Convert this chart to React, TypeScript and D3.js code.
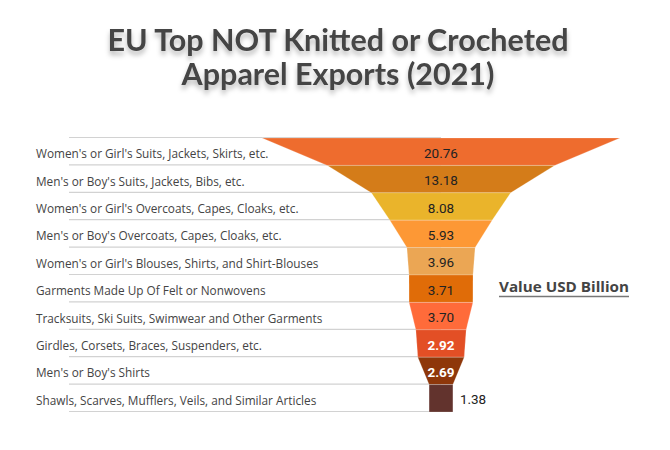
import React from "react";
import * as d3 from "d3";

const categories = [
  "Women's or Girl's Suits, Jackets, Skirts, etc.",
  "Men's or Boy's Suits, Jackets, Bibs, etc.",
  "Women's or Girl's Overcoats, Capes, Cloaks, etc.",
  "Men's or Boy's Overcoats, Capes, Cloaks, etc.",
  "Women's or Girl's Blouses, Shirts, and Shirt-Blouses",
  "Garments Made Up Of Felt or Nonwovens",
  "Tracksuits, Ski Suits, Swimwear and Other Garments",
  "Girdles, Corsets, Braces, Suspenders, etc.",
  "Men's or Boy's Shirts",
  "Shawls, Scarves, Mufflers, Veils, and Similar Articles",
];
const values = [20.76, 13.18, 8.08, 5.93, 3.96, 3.71, 3.7, 2.92, 2.69, 1.38];
const colors = [
  "#EE6C2E", "#D47C19", "#EAB42B", "#FD9835", "#EBA654",
  "#E06C08", "#FF6B3A", "#E34F25", "#8E370A", "#62332D",
];
const titleLines = ["EU Top NOT Knitted or Crocheted", "Apparel Exports (2021)"];
const legendLabel = "Value USD Billion";

const W = 670;
const H = 450;
const cx = 441;

export default function App() {
  const y = d3.scaleBand<string>().domain(categories).range([138, 412]).padding(0);
  const w = d3.scaleLinear().domain([0, d3.max(values) as number]).range([0, 358]);
  const bw = y.bandwidth();
  const gridYs = categories.map((c) => y(c) as number).concat([412]);

  return (
    <svg width={W} height={H} style={{ position: "absolute", left: 0, top: 0, background: "#fff" }}>
      <defs>
        <filter id="tshadow" x="-10%" y="-30%" width="120%" height="170%">
          <feDropShadow dx="0" dy="4" stdDeviation="2.5" floodColor="#000" floodOpacity="0.28" />
        </filter>
      </defs>
      <g filter="url(#tshadow)">
        {titleLines.map((t, i) => (
          <text
            key={i}
            x={338}
            y={51 + i * 34}
            textAnchor="middle"
            fontFamily="Lato, sans-serif"
            fontWeight={700}
            fontSize={30.5}
            fill="#444"
          >
            {t}
          </text>
        ))}
      </g>
      {gridYs.map((gy, i) => (
        <line key={i} x1={69} x2={cx} y1={gy - 0.5} y2={gy - 0.5} stroke="#d2d2d2" strokeWidth={1.2} />
      ))}
      {categories.map((c, i) => {
        const top = y(c) as number;
        const bot = top + bw;
        const tw = w(values[i]) / 2;
        const nw = i < values.length - 1 ? w(values[i + 1]) / 2 : tw;
        const path = d3.path();
        path.moveTo(cx - tw, top);
        path.lineTo(cx + tw, top);
        path.lineTo(cx + nw, bot);
        path.lineTo(cx - nw, bot);
        path.closePath();
        return (
          <path key={c} d={path.toString()} fill={colors[i]} stroke="#fff" strokeWidth={0.4} strokeOpacity={0.5} />
        );
      })}
      {categories.map((c, i) => (
        <text
          key={c}
          x={36}
          y={(y(c) as number) + bw / 2 + 6.5}
          fontFamily="'Open Sans', sans-serif"
          fontSize={11.8}
          fill="#444"
        >
          {c}
        </text>
      ))}
      {categories.map((c, i) => {
        const last = i === values.length - 1;
        const white = i === 7 || i === 8;
        return (
          <text
            key={c}
            x={last ? cx + w(values[i]) / 2 + 7 : cx}
            y={(y(c) as number) + bw / 2 + 6}
            textAnchor={last ? "start" : "middle"}
            fontFamily="Roboto, sans-serif"
            fontSize={13.5}
            fontWeight={white ? 700 : 400}
            fill={white ? "#fff" : "#222"}
          >
            {values[i].toFixed(2)}
          </text>
        );
      })}
      <text
        x={499}
        y={292}
        fontFamily="'Open Sans', sans-serif"
        fontWeight={700}
        fontSize={14.8}
        textLength={130}
        lengthAdjust="spacingAndGlyphs"
        fill="#444"
      >
        {legendLabel}
      </text>
      <line x1={499} x2={629} y1={296.5} y2={296.5} stroke="#777" strokeWidth={1.5} />
    </svg>
  );
}
